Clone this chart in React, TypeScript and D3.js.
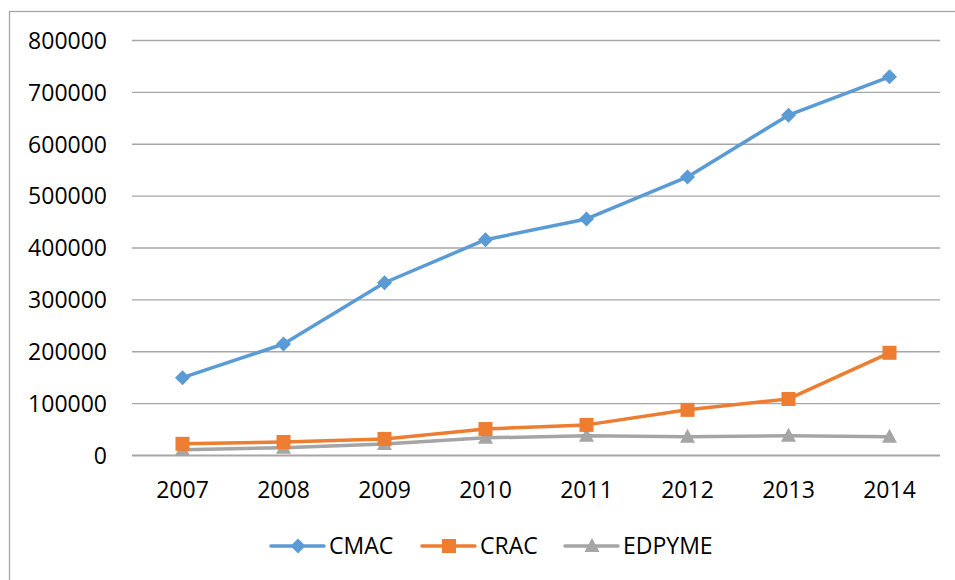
import * as d3 from 'd3';
import { useRef, useEffect } from 'react';

const years = ['2007', '2008', '2009', '2010', '2011', '2012', '2013', '2014'];
const cmac = [150000, 215000, 333000, 416000, 456000, 537000, 656000, 730000];
const crac = [22500, 26000, 32000, 51000, 59000, 88000, 109000, 198000];
const edpyme = [11000, 15000, 22000, 34000, 38000, 36000, 38000, 36000];
const yTicks = [0, 100000, 200000, 300000, 400000, 500000, 600000, 700000, 800000];

const series = [
    { name: 'CMAC', values: cmac, color: '#5B9BD5', symbol: 'diamond' },
    { name: 'CRAC', values: crac, color: '#ED7D31', symbol: 'square' },
    { name: 'EDPYME', values: edpyme, color: '#A5A5A5', symbol: 'triangle' },
];

const FONT = 'Open Sans, Lato, sans-serif';

function markerPath(symbol: string, cx: number, cy: number) {
    if (symbol === 'diamond') return `M${cx},${cy - 7.5}L${cx + 7.5},${cy}L${cx},${cy + 7.5}L${cx - 7.5},${cy}Z`;
    if (symbol === 'square') return `M${cx - 7},${cy - 7}h14v14h-14Z`;
    return `M${cx},${cy - 8}L${cx + 7.5},${cy + 6}L${cx - 7.5},${cy + 6}Z`;
}

function App() {
    const svgRef = useRef<SVGSVGElement>(null);
    const width = 955;
    const height = 580;

    useEffect(() => {
        const svg = d3.select(svgRef.current);
        svg.selectAll('*').remove();

        const left = 132, right = 940, top = 40.5, bottom = 455.5;

        // chart frame
        svg.append('rect')
            .attr('x', 9.5).attr('y', 11.5)
            .attr('width', 1000).attr('height', 1000)
            .attr('fill', 'white')
            .attr('stroke', '#A6A6A6')
            .attr('stroke-width', 1.3);

        const x = d3.scaleBand().domain(years).range([left, right]);
        const y = d3.scaleLinear().domain([0, 800000]).range([bottom, top]);
        const cx = (d: string) => (x(d) as number) + x.bandwidth() / 2;

        // gridlines + y labels
        const grid = svg.append('g');
        grid.selectAll('line')
            .data(yTicks)
            .enter()
            .append('line')
            .attr('x1', left).attr('x2', right)
            .attr('y1', d => y(d)).attr('y2', d => y(d))
            .attr('stroke', '#A6A6A6')
            .attr('stroke-width', d => (d === 0 ? 2 : 1.4));
        grid.selectAll('text')
            .data(yTicks)
            .enter()
            .append('text')
            .attr('x', 107)
            .attr('y', d => y(d))
            .attr('dy', '0.36em')
            .attr('text-anchor', 'end')
            .attr('font-family', FONT)
            .attr('font-size', 23)
            .attr('fill', '#000')
            .text(d => String(d));

        // x labels
        svg.append('g').selectAll('text')
            .data(years)
            .enter()
            .append('text')
            .attr('x', d => cx(d))
            .attr('y', 498)
            .attr('text-anchor', 'middle')
            .attr('font-family', FONT)
            .attr('font-size', 23)
            .attr('fill', '#000')
            .text(d => d);

        // lines
        const line = d3.line<number>()
            .x((_, i) => cx(years[i]))
            .y(d => y(d));

        [...series].reverse().forEach(s => {
            const g = svg.append('g');
            g.append('path')
                .datum(s.values)
                .attr('d', line)
                .attr('fill', 'none')
                .attr('stroke', s.color)
                .attr('stroke-width', 3.5)
                .attr('stroke-linejoin', 'round')
                .attr('stroke-linecap', 'round');
            g.selectAll('path.m')
                .data(s.values)
                .enter()
                .append('path')
                .attr('class', 'm')
                .attr('d', (d, i) => markerPath(s.symbol, cx(years[i]), y(d)))
                .attr('fill', s.color);
        });

        // legend
        const legendX = [271, 422, 565];
        const ly = 546;
        series.forEach((s, i) => {
            const lg = svg.append('g');
            lg.append('line')
                .attr('x1', legendX[i]).attr('x2', legendX[i] + 53)
                .attr('y1', ly).attr('y2', ly)
                .attr('stroke', s.color)
                .attr('stroke-width', 3.5)
                .attr('stroke-linecap', 'round');
            lg.append('path')
                .attr('d', markerPath(s.symbol, legendX[i] + 27, ly))
                .attr('fill', s.color);
            lg.append('text')
                .attr('x', legendX[i] + 58)
                .attr('y', ly)
                .attr('dy', '0.36em')
                .attr('font-family', FONT)
                .attr('font-size', 23)
                .attr('fill', '#000')
                .text(s.name);
        });
    }, []);

    return (
        <svg
            ref={svgRef}
            width={width}
            height={height}
            style={{ position: 'absolute', left: 0, top: 0, background: 'white' }}
        />
    );
}

export default App;
